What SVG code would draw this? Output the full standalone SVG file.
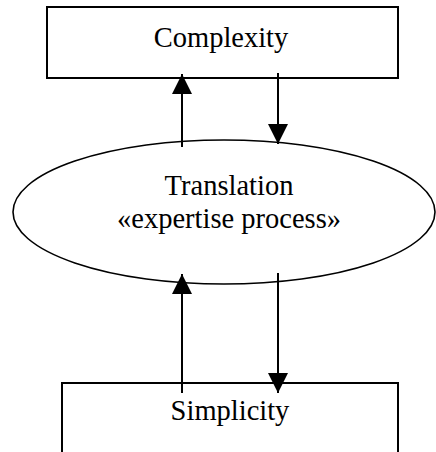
<svg xmlns="http://www.w3.org/2000/svg" width="436" height="452" viewBox="0 0 436 452">
  <defs>
    <marker id="arrow" markerUnits="userSpaceOnUse" markerWidth="20" markerHeight="20" refX="20" refY="10" orient="auto" viewBox="0 0 20 20">
      <path d="M0,0 L20,10 L0,20 Z" fill="#000"/>
    </marker>
    <style>
      .box { fill: none; stroke: #000; stroke-width: 2; }
      .ell { fill: none; stroke: #000; stroke-width: 1.6; }
      .lbl { font-family: "Liberation Serif", "Times New Roman", serif; font-size: 28.5px; fill: #000; text-anchor: middle; }
      .conn { stroke: #000; stroke-width: 2; fill: none; marker-end: url(#arrow); }
    </style>
  </defs>
  <rect width="436" height="452" fill="#fff"/>
  <g id="complexity">
    <rect class="box" x="47" y="7" width="351" height="71"/>
    <text class="lbl" x="221" y="47">Complexity</text>
  </g>
  <g id="translation">
    <ellipse class="ell" cx="224" cy="212" rx="211" ry="72"/>
    <text class="lbl" x="229" y="195">Translation</text>
    <text class="lbl" x="229" y="228">«expertise process»</text>
  </g>
  <g id="simplicity">
    <path class="box" d="M62,453 V383 H398 V453"/>
    <text class="lbl" x="230" y="420">Simplicity</text>
  </g>
  <g id="connectors">
    <line class="conn" x1="182" y1="147" x2="182" y2="74"/>
    <line class="conn" x1="278" y1="73" x2="278" y2="144"/>
    <line class="conn" x1="182" y1="393" x2="182" y2="274"/>
    <line class="conn" x1="278" y1="273" x2="278" y2="393"/>
  </g>
</svg>
